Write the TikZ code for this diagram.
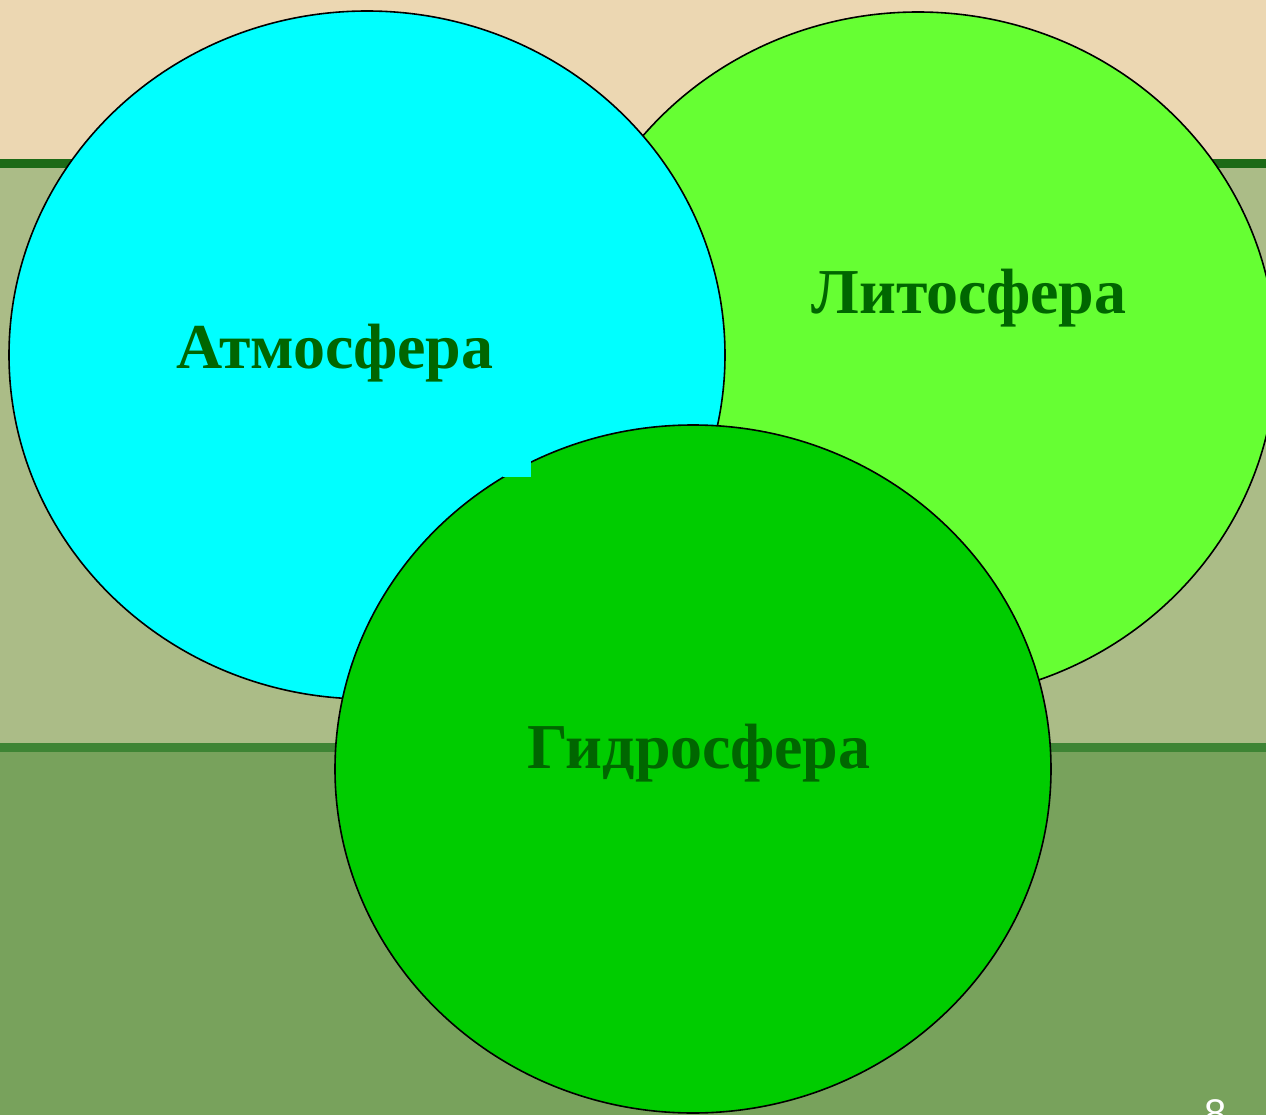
\documentclass[tikz,border=0pt]{standalone}
\usepackage{fontspec}
\setmainfont{Liberation Serif}
\setsansfont{Liberation Sans}
\usetikzlibrary{shapes.geometric}
\definecolor{sandtop}{HTML}{ECD7B2}
\definecolor{bandline}{HTML}{1C6A16}
\definecolor{midband}{HTML}{ABBC87}
\definecolor{lowline}{HTML}{3E8434}
\definecolor{lowband}{HTML}{78A25C}
\definecolor{atmocyan}{HTML}{00FFFF}
\definecolor{lithogreen}{HTML}{66FF33}
\definecolor{hydrogreen}{HTML}{00CC00}
\definecolor{labelgreen}{HTML}{006600}

\begin{document}
\begin{tikzpicture}[x=1pt, y=-1pt,
    sphere/.style={ellipse, draw=black, line width=1.6pt,
      minimum width=716pt, minimum height=688pt, inner sep=0pt},
    spherelabel/.style={anchor=base, text=labelgreen,
      font=\fontsize{64}{74}\bfseries\selectfont}]
  \useasboundingbox (0,0) rectangle (1266,1115);

  % ---------- background bands ----------
  \fill[sandtop] (0,0) rectangle (1266,160);
  \fill[midband] (0,160) rectangle (1266,745);
  \fill[lowband] (0,745) rectangle (1266,1115);
  \fill[bandline] (0,159) rectangle (1266,168);
  \fill[lowline] (0,743) rectangle (1266,752);

  % ---------- the three spheres ----------
  \node[sphere, fill=lithogreen] (litho) at (918,356) {};
  \node[sphere, fill=atmocyan] (atmo) at (367,355) {};
  \node[sphere, fill=hydrogreen] (hydro) at (693,769) {};
  \fill[atmocyan] (503,452) rectangle (531,477);

  \node[spherelabel] (atmolabel) at (335,368) {Атмосфера};
  \node[spherelabel] (litholabel) at (969,313) {Литосфера};
  \node[spherelabel] (hydrolabel) at (699,768) {Гидросфера};

  % page number, cut by the lower edge
  \node[anchor=north, text=white, font=\sffamily\fontsize{40}{48}\selectfont,
    inner sep=0pt] (pagenum) at (1216,1099) {8};
\end{tikzpicture}
\end{document}
